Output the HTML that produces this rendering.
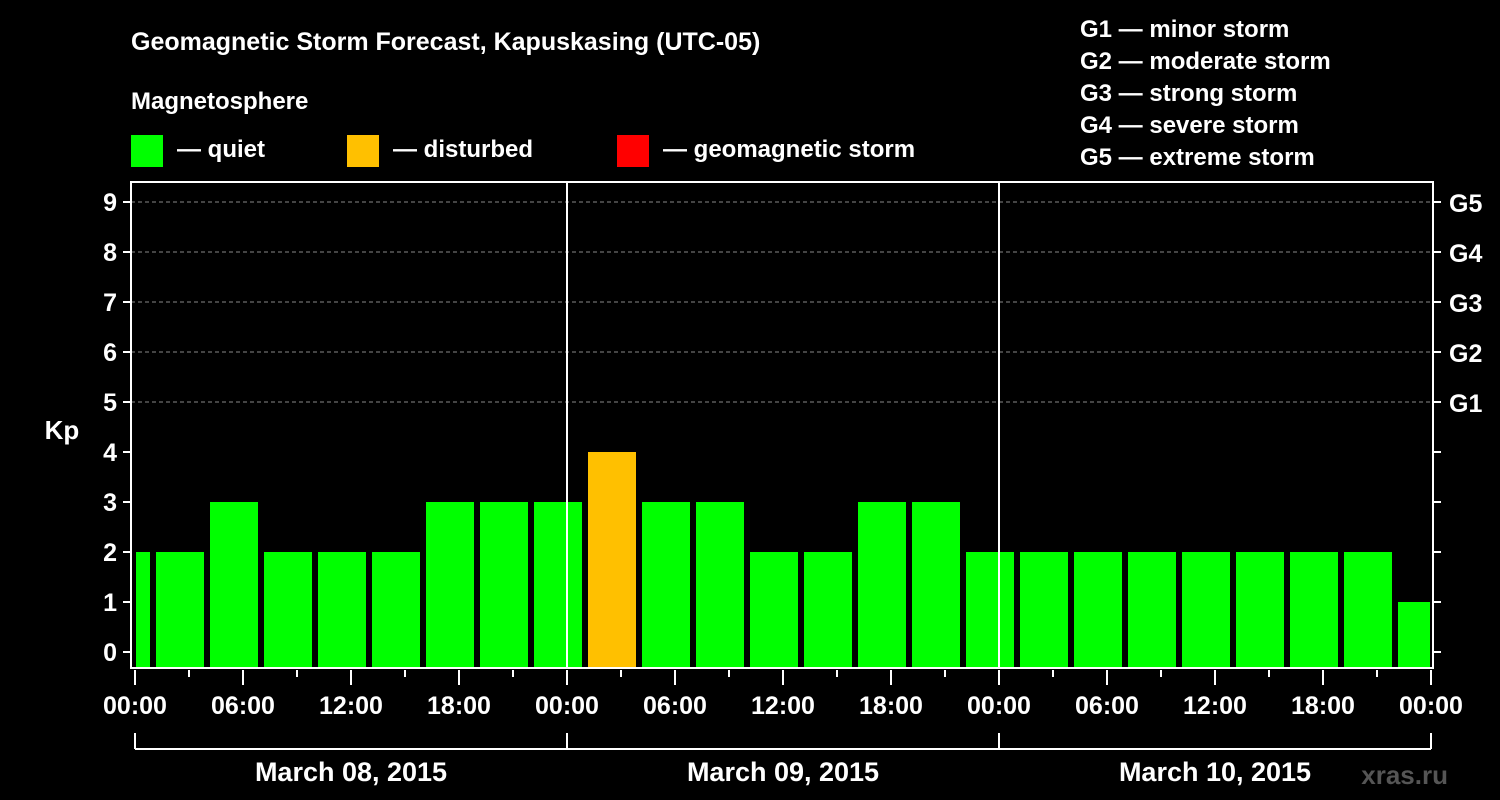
<!DOCTYPE html>
<html><head><meta charset="utf-8"><style>
html,body{margin:0;padding:0;background:#000;}
svg{display:block;font-family:"Liberation Sans",Arial,sans-serif;font-weight:bold;}
</style></head><body>
<svg id="chart" width="1500" height="800" viewBox="0 0 1500 800">
<text x="131" y="50" fill="#fff" font-size="25">Geomagnetic Storm Forecast, Kapuskasing (UTC-05)</text>
<text x="131" y="109" fill="#fff" font-size="24">Magnetosphere</text>
<g><rect x="131" y="135" width="32" height="32" fill="#00ff00"/><text x="177" y="157" fill="#fff" font-size="24">— quiet</text></g>
<g><rect x="347" y="135" width="32" height="32" fill="#ffc000"/><text x="393" y="157" fill="#fff" font-size="24">— disturbed</text></g>
<g><rect x="617" y="135" width="32" height="32" fill="#ff0000"/><text x="663" y="157" fill="#fff" font-size="24">— geomagnetic storm</text></g>
<g fill="#fff" font-size="24">
<text x="1080" y="37">G1 — minor storm</text>
<text x="1080" y="69">G2 — moderate storm</text>
<text x="1080" y="101">G3 — strong storm</text>
<text x="1080" y="133">G4 — severe storm</text>
<text x="1080" y="165">G5 — extreme storm</text>
</g>
<text x="62" y="439" fill="#fff" font-size="26" text-anchor="middle">Kp</text>
<text x="1448" y="784" fill="#555" font-size="26" text-anchor="end">xras.ru</text>
<g id="plot"></g>
</svg>
<script>
const kpValues = [2, 2,3,2,2,2,3,3,3, 4,3,3,2,2,3,3,2, 2,2,2,2,2,2,2,1];
const yTicks = [0,1,2,3,4,5,6,7,8,9];
const gLabels = ["G1","G2","G3","G4","G5"];
const xLabels = ["00:00","06:00","12:00","18:00","00:00","06:00","12:00","18:00","00:00","06:00","12:00","18:00","00:00"];
const dayLabels = ["March 08, 2015","March 09, 2015","March 10, 2015"];
const firstBinHour = -2, binHours = 3, totalHours = 72;

const NS="http://www.w3.org/2000/svg";
const plot=document.getElementById('plot');
const L=131,R=1433,T=182,B=668,X0=135,PX=18;
const x=h=>X0+h*PX;
const y=k=>652-50*k;
function el(tag,attrs,parent){const e=document.createElementNS(NS,tag);for(const k in attrs)e.setAttribute(k,attrs[k]);(parent||plot).appendChild(e);return e;}

// grid
for(const k of yTicks){ if(k>=5){const g=el('line',{x1:L,x2:R,y1:y(k),y2:y(k),stroke:'#888','stroke-dasharray':'4,3','stroke-width':1});

}}
// bars
kpValues.forEach((v,i)=>{
  let h0=firstBinHour+i*binHours,h1=h0+binHours;
  let xa=Math.max(x(h0)+3,L+5),xb=Math.min(x(h1)-3,R-3);
  const c=v>=5?'#ff0000':(v>=4?'#ffc000':'#00ff00');
  const r=el('rect',{x:xa,y:y(v),width:xb-xa,height:B-y(v),fill:c});
  
  
});
// day separators
for(let d=1;d<3;d++){const l=el('line',{x1:x(24*d),x2:x(24*d),y1:T,y2:B,stroke:'#fff','stroke-width':2});

}
// frame
const f=el('rect',{x:L,y:T,width:R-L,height:B-T,fill:'none',stroke:'#fff','stroke-width':2});


// y ticks
yTicks.forEach(k=>{
  el('line',{x1:L-8,x2:L,y1:y(k),y2:y(k),stroke:'#fff','stroke-width':2});
  el('line',{x1:R,x2:R+8,y1:y(k),y2:y(k),stroke:'#fff','stroke-width':2});
  const t=el('text',{x:L-14,y:y(k)+9,fill:'#fff','font-size':25,'text-anchor':'end'});t.textContent=k;
  
  
});
gLabels.forEach((g,i)=>{const t=el('text',{x:R+16,y:y(5+i)+10,fill:'#fff','font-size':25});t.textContent=g;
  
  });
// x ticks
for(let h=0;h<=totalHours;h+=3){const maj=h%6===0;el('line',{x1:x(h),x2:x(h),y1:B+2,y2:B+(maj?17:9),stroke:'#fff','stroke-width':2});}
xLabels.forEach((s,i)=>{const t=el('text',{x:x(i*6),y:714,fill:'#fff','font-size':25,'text-anchor':'middle'});t.textContent=s;
  
  });
// day bracket
el('line',{x1:x(0),x2:x(totalHours),y1:749,y2:749,stroke:'#fff','stroke-width':2});
for(let d=0;d<=3;d++)el('line',{x1:x(24*d),x2:x(24*d),y1:733,y2:749,stroke:'#fff','stroke-width':2});
dayLabels.forEach((s,i)=>{const t=el('text',{x:x(24*i+12),y:781,fill:'#fff','font-size':27,'text-anchor':'middle'});t.textContent=s;
  
  });
</script>
</body></html>
